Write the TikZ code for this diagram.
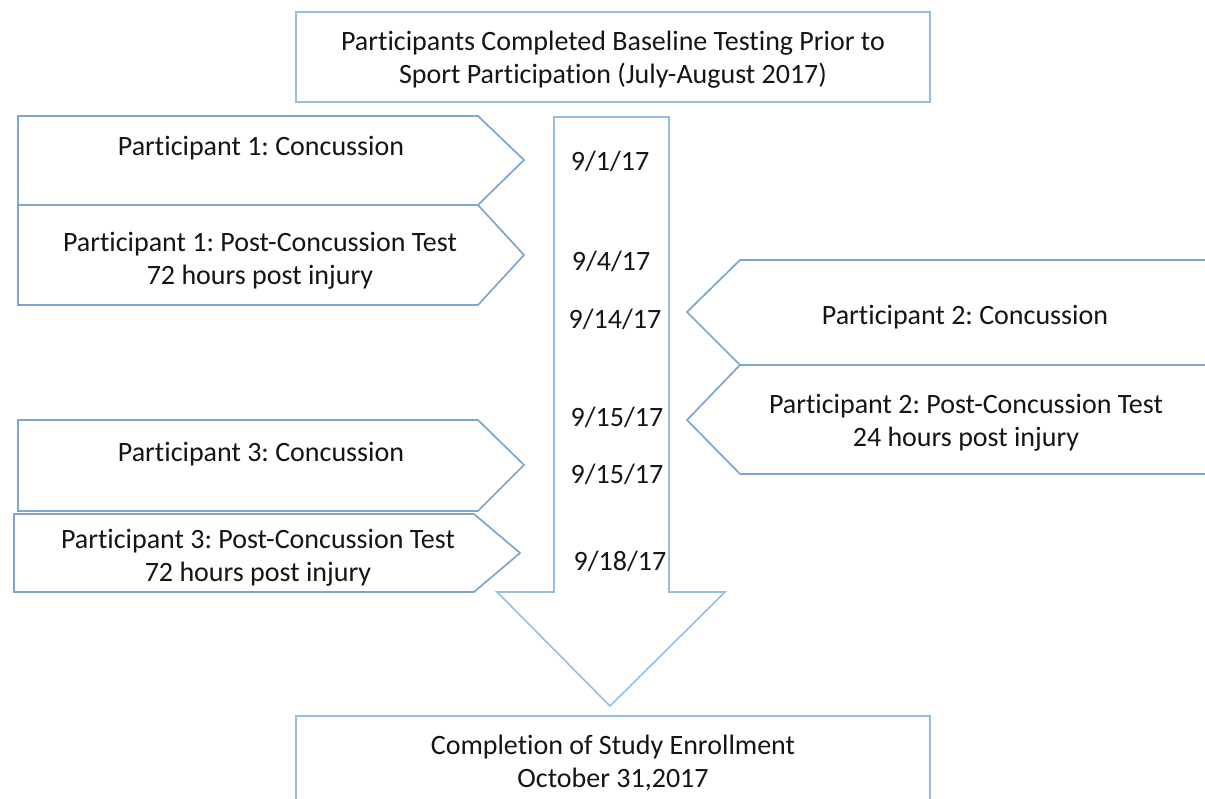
\documentclass[tikz,border=0pt]{standalone}
\usepackage{fontspec}
\setmainfont{Carlito}[Ligatures=NoCommon]
\frenchspacing
\definecolor{edge}{RGB}{125,165,205}
\definecolor{edgelight}{RGB}{150,190,228}
\definecolor{ink}{RGB}{20,20,25}
\tikzset{
  shapeline/.style={draw=edge, line width=1.7pt, line join=miter},
  boxline/.style={draw=edgelight, line width=1.6pt},
  lbl/.style={text=ink, align=center, font=\fontsize{28}{33}\selectfont\frenchspacing, inner sep=0pt},
}
\begin{document}
\begin{tikzpicture}[x=1pt,y=-1pt]
\useasboundingbox (0,0) rectangle (1205,799);
\clip (0,0) rectangle (1205,799);
% top box
\draw[boxline] (296,12) rectangle (930,102);
\node[lbl] (top) at (613,60) {Participants Completed Baseline Testing Prior to\\Sport Participation (July-August 2017)};
% big down arrow
\draw[boxline] (554,117) -- (669,117) -- (669,592) -- (725,592) -- (610,706) -- (497,592) -- (554,592) -- cycle;
% left pentagons
\draw[shapeline] (18,116) -- (478,116) -- (524,160) -- (478,205) -- (18,205) -- cycle;
\draw[shapeline] (18,205) -- (478,205) -- (524,255) -- (478,305) -- (18,305) -- cycle;
\draw[shapeline] (18,420) -- (478,420) -- (524,465) -- (478,511) -- (18,511) -- cycle;
\draw[shapeline] (14,514) -- (474,514) -- (520,553) -- (474,592) -- (14,592) -- cycle;
% right pentagons
\draw[shapeline] (1215,260) -- (740,260) -- (687,312) -- (740,365) -- (1215,365);
\draw[shapeline] (1215,365) -- (740,365) -- (687,420) -- (740,474) -- (1215,474);
% labels
\node[lbl] (p1c) at (261,148) {Participant 1: Concussion};
\node[lbl] (p1t) at (260,261) {Participant 1: Post-Concussion Test\\72 hours post injury};
\node[lbl] (p2c) at (965,317) {Participant 2: Concussion};
\node[lbl] (p2t) at (966,423) {Participant 2: Post-Concussion Test\\24 hours post injury};
\node[lbl] (p3c) at (261,454) {Participant 3: Concussion};
\node[lbl] (p3t) at (258,558) {Participant 3: Post-Concussion Test\\72 hours post injury};
\node[lbl] (bot) at (613,763) {Completion of Study Enrollment\\October 31,2017};
% dates
\node[lbl] (d1) at (610,161) {9/1/17};
\node[lbl] (d2) at (611,261) {9/4/17};
\node[lbl] (d3) at (615,319) {9/14/17};
\node[lbl] (d4) at (617,417) {9/15/17};
\node[lbl] (d5) at (617,474) {9/15/17};
\node[lbl] (d6) at (620,561) {9/18/17};
% bottom box
\draw[boxline] (296,716) rectangle (930,810);
\end{tikzpicture}
\end{document}
